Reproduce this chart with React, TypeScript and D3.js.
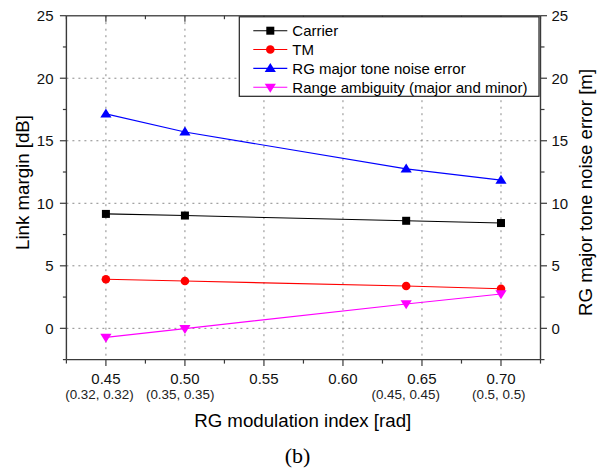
import React from "react";
import * as d3 from "d3";

const xValues = [0.45, 0.5, 0.64, 0.7];
const carrier = [9.15, 9.02, 8.6, 8.42];
const tm = [3.92, 3.78, 3.38, 3.17];
const rgNoise = [17.15, 15.7, 12.75, 11.85];
const rangeAmb = [-0.72, -0.02, 1.95, 2.75];

const seriesNames = [
  "Carrier",
  "TM",
  "RG major tone noise error",
  "Range ambiguity (major and minor)",
];
const seriesColors = ["#000000", "#ff0000", "#0000ff", "#ff00ff"];
const seriesSymbols = ["square", "circle", "triangleUp", "triangleDown"];

const xTicks = [0.45, 0.5, 0.55, 0.6, 0.65, 0.7];
const xMinorTicks = [0.425, 0.475, 0.525, 0.575, 0.625, 0.675, 0.725];
const yTicks = [0, 5, 10, 15, 20, 25];
const yMinorTicks = [-2.5, 2.5, 7.5, 12.5, 17.5, 22.5];
const yGrid = [0, 5, 10, 15, 20];

const subLabels = ["(0.32, 0.32)", "(0.35, 0.35)", "(0.45, 0.45)", "(0.5, 0.5)"];
const subLabelX = [0.4459, 0.497, 0.6397, 0.6986];

const W = 603;
const H = 472;
const L = 66.4;
const R = 540.5;
const T = 15.7;
const B = 359.6;

const FONT = "'Liberation Sans', Arial, sans-serif";

function Marker({ kind, cx, cy, color }: { kind: string; cx: number; cy: number; color: string }) {
  if (kind === "square") {
    return <rect x={cx - 4} y={cy - 4} width={8} height={8} fill={color} />;
  }
  if (kind === "circle") {
    return <circle cx={cx} cy={cy} r={4.3} fill={color} />;
  }
  const w = 5.6;
  const h = 9;
  if (kind === "triangleUp") {
    const p = `${cx},${cy - h * 0.6} ${cx + w},${cy + h * 0.4} ${cx - w},${cy + h * 0.4}`;
    return <polygon points={p} fill={color} />;
  }
  const p = `${cx},${cy + h * 0.6} ${cx + w},${cy - h * 0.4} ${cx - w},${cy - h * 0.4}`;
  return <polygon points={p} fill={color} />;
}

export default function App() {
  const x = d3.scaleLinear().domain([0.425, 0.725]).range([L, R]);
  const y = d3.scaleLinear().domain([-2.5, 25]).range([B, T]);
  const series = [carrier, tm, rgNoise, rangeAmb];
  const line = d3
    .line<number>()
    .x((_, i) => x(xValues[i]))
    .y((d) => y(d));

  const axisColor = "#3a3a3a";
  const legX = 239.3;
  const legY = 16.8;
  const legW = 299.7;
  const legH = 79.5;
  const rowY = [30.7, 49.5, 68.4, 87.3];

  return (
    <div style={{ position: "absolute", left: 0, top: 0 }}>
      <svg width={W} height={H} style={{ display: "block", background: "#fff" }}>
        {/* grid */}
        {xTicks.map((t) => (
          <line
            key={"gx" + t}
            x1={x(t)}
            x2={x(t)}
            y1={T}
            y2={B}
            stroke="#8a8a8a"
            strokeWidth={1}
            strokeDasharray="2,4.5"
          />
        ))}
        {yGrid.map((t) => (
          <line
            key={"gy" + t}
            x1={L}
            x2={R}
            y1={y(t)}
            y2={y(t)}
            stroke="#8a8a8a"
            strokeWidth={1}
            strokeDasharray="2,4"
          />
        ))}

        {/* series lines */}
        {series.map((s, i) => (
          <path
            key={"l" + i}
            d={line(s) || ""}
            fill="none"
            stroke={seriesColors[i]}
            strokeWidth={1.1}
          />
        ))}
        {/* markers */}
        {series.map((s, i) =>
          s.map((v, j) => (
            <Marker
              key={"m" + i + "-" + j}
              kind={seriesSymbols[i]}
              cx={x(xValues[j])}
              cy={y(v)}
              color={seriesColors[i]}
            />
          ))
        )}

        {/* axes frame */}
        <line x1={L} x2={R} y1={T} y2={T} stroke="#555" strokeWidth={1.6} />
        <line x1={L} x2={R} y1={B} y2={B} stroke={axisColor} strokeWidth={1.4} />
        <line x1={L} x2={L} y1={T} y2={B} stroke={axisColor} strokeWidth={1.4} />
        <line x1={R} x2={R} y1={T} y2={B} stroke={axisColor} strokeWidth={1.4} />

        {/* bottom ticks */}
        {xTicks.map((t) => (
          <line key={"bt" + t} x1={x(t)} x2={x(t)} y1={B} y2={B + 6.5} stroke={axisColor} strokeWidth={1.2} />
        ))}
        {xMinorTicks.map((t) => (
          <line key={"bmt" + t} x1={x(t)} x2={x(t)} y1={B} y2={B + 4} stroke={axisColor} strokeWidth={1.2} />
        ))}
        {/* top ticks (inward) */}
        {xTicks.map((t) => (
          <line key={"tt" + t} x1={x(t)} x2={x(t)} y1={T} y2={T + 6} stroke={axisColor} strokeWidth={1.2} />
        ))}
        {xMinorTicks.map((t) => (
          <line key={"tmt" + t} x1={x(t)} x2={x(t)} y1={T} y2={T + 3.5} stroke={axisColor} strokeWidth={1.2} />
        ))}
        {/* left ticks */}
        {yTicks.map((t) => (
          <line key={"lt" + t} x1={L - 6.5} x2={L} y1={y(t)} y2={y(t)} stroke={axisColor} strokeWidth={1.2} />
        ))}
        {yMinorTicks.map((t) => (
          <line key={"lmt" + t} x1={L - 3.5} x2={L} y1={y(t)} y2={y(t)} stroke={axisColor} strokeWidth={1.2} />
        ))}
        {/* right ticks */}
        {yTicks.map((t) => (
          <line key={"rt" + t} x1={R} x2={R + 6.5} y1={y(t)} y2={y(t)} stroke={axisColor} strokeWidth={1.2} />
        ))}
        {yMinorTicks.map((t) => (
          <line key={"rmt" + t} x1={R} x2={R + 4} y1={y(t)} y2={y(t)} stroke={axisColor} strokeWidth={1.2} />
        ))}

        {/* tick labels */}
        <g fontFamily={FONT} fontSize={15} fill="#111">
          {xTicks.map((t) => (
            <text key={"xl" + t} x={x(t)} y={384} textAnchor="middle">
              {d3.format(".2f")(t)}
            </text>
          ))}
          {yTicks.map((t) => (
            <text key={"yl" + t} x={53.5} y={y(t)} dy="0.36em" textAnchor="end">
              {t}
            </text>
          ))}
          {yTicks.map((t) => (
            <text key={"yr" + t} x={551.5} y={y(t)} dy="0.36em" textAnchor="start">
              {t}
            </text>
          ))}
        </g>
        <g fontFamily={FONT} fontSize={13.4} fill="#222">
          {subLabels.map((s, i) => (
            <text key={"sl" + i} x={x(subLabelX[i])} y={399.3} textAnchor="middle">
              {s}
            </text>
          ))}
        </g>

        {/* axis titles */}
        <g fontFamily={FONT} fontSize={18.7} fill="#000">
          <text x={302.7} y={427.3} textAnchor="middle">
            RG modulation index [rad]
          </text>
          <text transform="translate(28.8,182.5) rotate(-90)" textAnchor="middle">
            Link margin [dB]
          </text>
          <text transform="translate(591.5,192.5) rotate(-90)" textAnchor="middle">
            RG major tone noise error [m]
          </text>
        </g>
        <text
          x={297.5}
          y={463}
          textAnchor="middle"
          fontFamily="'Liberation Serif', 'Times New Roman', serif"
          fontSize={22}
          fill="#000"
        >
          (b)
        </text>

        {/* legend */}
        <rect x={legX} y={legY} width={legW} height={legH} fill="#fff" stroke="#222" strokeWidth={1.2} />
        {seriesNames.map((n, i) => (
          <g key={"lg" + i}>
            <line x1={253.3} x2={287.3} y1={rowY[i]} y2={rowY[i]} stroke={seriesColors[i]} strokeWidth={1.1} />
            <Marker kind={seriesSymbols[i]} cx={270.3} cy={rowY[i]} color={seriesColors[i]} />
            <text x={292.3} y={rowY[i]} dy="0.36em" fontFamily={FONT} fontSize={15} fill="#000">
              {n}
            </text>
          </g>
        ))}
      </svg>
    </div>
  );
}
